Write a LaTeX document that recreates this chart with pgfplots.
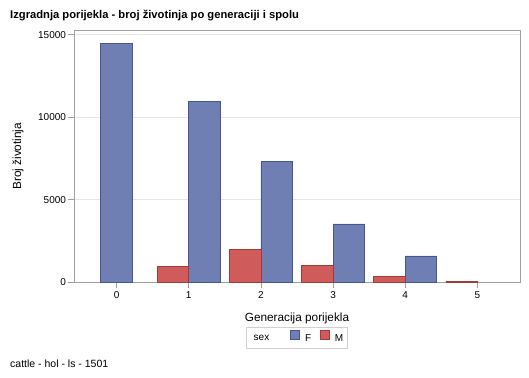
\documentclass[border=0pt]{standalone}
\usepackage{fontspec}
\setmainfont{Liberation Sans}
\usepackage{pgfplots}
\pgfplotsset{compat=1.18}
\definecolor{fblue}{HTML}{6F7EB3}
\definecolor{fblueE}{HTML}{445694}
\definecolor{mred}{HTML}{D05B5B}
\definecolor{mredE}{HTML}{A23A3A}
\definecolor{axgray}{HTML}{A0A0A0}
\definecolor{gridc}{HTML}{E6E6E6}
\definecolor{leggray}{HTML}{D0D0D0}
\begin{document}
\begin{tikzpicture}
\useasboundingbox (-74pt,-95pt) rectangle (455pt,282pt);
\begin{axis}[
  at={(0,0)}, anchor=south west,
  scale only axis, width=446pt, height=251.5pt,
  xmin=-0.59, xmax=5.59, ymin=0, ymax=15260,
  xtick={0,1,2,3,4,5}, ytick={0,5000,10000,15000},
  ymajorgrids, major grid style={gridc, line width=0.8pt},
  axis line style={axgray, line width=0.8pt},
  tick style={axgray, line width=0.8pt},
  tick align=outside, major tick length=6pt, tick pos=left,
  scaled y ticks=false,
  /pgf/number format/1000 sep={},
  /pgf/number format/assume math mode=true,
  ticklabel style={font=\fontsize{10}{12}\selectfont},
  yticklabel style={xshift=1.5pt},
  xlabel={Generacija porijekla}, ylabel={Broj životinja},
  label style={font=\fontsize{11.8}{14}\selectfont},
  xlabel style={at={(axis description cs:0.5,0)}, anchor=center, yshift=-36pt},
  ylabel style={at={(axis description cs:-0.1256,0.5)}, anchor=center},
  legend columns=-1,
  legend style={at={(axis description cs:0.5,0)}, anchor=north, yshift=-45pt,
    draw=leggray, line width=0.8pt, font=\fontsize{10}{12}\selectfont,
    inner xsep=2.5pt, inner ysep=3pt,
    /tikz/every odd column/.append style={column sep=3pt},
    /tikz/every even column/.append style={column sep=7pt}},
]
\addlegendimage{legend image code/.code={}}
\addlegendentry{sex\kern 12pt}
\addplot[ybar, bar width=0.436, bar shift=0, fill=fblue, draw=fblueE, line width=0.8pt, forget plot]
  coordinates {(0,14450)};
\addplot[ybar, bar width=0.436, bar shift=0.218, fill=fblue, draw=fblueE, line width=0.8pt,
  legend image code/.code={\draw[fill=fblue, draw=fblueE, line width=0.8pt] (0pt,-1pt) rectangle (9pt,8pt);}]
  coordinates {(1,10930) (2,7290) (3,3520) (4,1580)};
\addlegendentry{F}
\addplot[ybar, bar width=0.436, bar shift=-0.218, fill=mred, draw=mredE, line width=0.8pt,
  legend image code/.code={\draw[fill=mred, draw=mredE, line width=0.8pt] (0pt,-1pt) rectangle (9pt,8pt);}]
  coordinates {(1,970) (2,2000) (3,1030) (4,360) (5,60)};
\addlegendentry{M}
\end{axis}
\node[anchor=base west, inner sep=0pt, font=\bfseries\fontsize{11.2}{13}\selectfont]
  at (-64pt,263.7pt) {Izgradnja porijekla - broj životinja po generaciji i spolu};
\node[anchor=base west, inner sep=0pt, font=\fontsize{10.5}{12}\selectfont]
  at (-64pt,-85pt) {cattle - hol - ls - 1501};
\end{tikzpicture}
\end{document}
